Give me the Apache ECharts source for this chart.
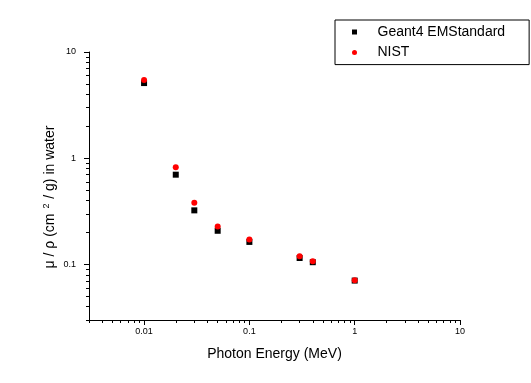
<!DOCTYPE html>
<html>
<head>
<meta charset="utf-8">
<script src="https://cdn.jsdelivr.net/npm/echarts@6/dist/echarts.min.js"></script>
<style>
html,body{margin:0;padding:0;background:#fff;}
#chart{width:531px;height:383px;}
</style>
</head>
<body>
<div id="chart"></div>
<script>
// Data
const energies = [0.01, 0.02, 0.03, 0.05, 0.1, 0.3, 0.4, 1];
const geant4 = [5.10, 0.70, 0.323, 0.2075, 0.163, 0.115, 0.105, 0.0705];
const nist = [5.44, 0.822, 0.381, 0.228, 0.172, 0.1197, 0.1074, 0.0711];

// Tick values
const xMajor = [0.01, 0.1, 1, 10];
const xMinor = [0.003, 0.004, 0.005, 0.006, 0.007, 0.008, 0.009,
  0.02, 0.03, 0.04, 0.05, 0.06, 0.07, 0.08, 0.09,
  0.2, 0.3, 0.4, 0.5, 0.6, 0.7, 0.8, 0.9,
  2, 3, 4, 5, 6, 7, 8, 9];
const yMajor = [0.1, 1, 10];
const yMinor = [0.03, 0.04, 0.05, 0.06, 0.07, 0.08, 0.09,
  0.2, 0.3, 0.4, 0.5, 0.6, 0.7, 0.8, 0.9,
  2, 3, 4, 5, 6, 7, 8, 9];
const seriesNames = ['Geant4 EMStandard', 'NIST'];

const FONT = 'Liberation Sans, Arial, sans-serif';
const lineStyle = {color: '#000', width: 1};

function pairs(xs, ys) { return xs.map((x, i) => [x, ys[i]]); }
function fmt(v) { return String(+v.toPrecision(6)); }

const chart = echarts.init(document.getElementById('chart'), null, {renderer: 'canvas'});
chart.setOption({
  backgroundColor: '#fff',
  animation: false,
  textStyle: {fontFamily: FONT},
  grid: {left: 89, right: 71, top: 52, bottom: 63, containLabel: false, outerBoundsMode: 'none'},
  legend: {
    data: seriesNames,
    orient: 'vertical',
    left: 335,
    top: 20,
    itemWidth: 5,
    itemHeight: 5,
    itemGap: 6.6,
    padding: [5, 24, 5, 17],
    borderColor: '#000',
    borderWidth: 1,
    backgroundColor: '#fff',
    textStyle: {fontFamily: FONT, fontSize: 14, color: '#000', lineHeight: 14, padding: [0, 0, 0, 15.5]}
  },
  xAxis: [
    {
      type: 'log', min: 0.003, max: 10, position: 'bottom',
      axisLine: {lineStyle},
      axisTick: {customValues: xMajor, length: 5, lineStyle},
      axisLabel: {customValues: xMajor, formatter: fmt, fontSize: 9, color: '#000', margin: 7, fontFamily: FONT},
      splitLine: {show: false},
      minorTick: {show: false},
      name: 'Photon Energy (MeV)',
      nameLocation: 'middle',
      nameGap: 27,
      nameMoveOverlap: false,
      nameTextStyle: {fontFamily: FONT, fontSize: 14, color: '#000'}
    },
    {
      type: 'log', min: 0.003, max: 10, position: 'bottom',
      axisLine: {show: false},
      axisTick: {customValues: xMinor, length: 3, lineStyle},
      axisLabel: {show: false},
      splitLine: {show: false}
    }
  ],
  yAxis: [
    {
      type: 'log', min: 0.03, max: 10, position: 'left',
      axisLine: {lineStyle},
      axisTick: {customValues: yMajor, length: 5, lineStyle},
      axisLabel: {customValues: yMajor, formatter: fmt, fontSize: 9, color: '#000', margin: 13, fontFamily: FONT},
      splitLine: {show: false},
      name: 'μ / ρ (cm {s|2} / g) in water',
      nameLocation: 'middle',
      nameGap: 30,
      nameMoveOverlap: false,
      nameTextStyle: {
        fontFamily: FONT, fontSize: 14, color: '#000', padding: [0, 22, 0, 0],
        rich: {s: {fontFamily: FONT, fontSize: 9, color: '#000', padding: [0, 1, 8, 1]}}
      }
    },
    {
      type: 'log', min: 0.03, max: 10, position: 'left',
      axisLine: {show: false},
      axisTick: {customValues: yMinor, length: 3, lineStyle},
      axisLabel: {show: false},
      splitLine: {show: false}
    }
  ],
  series: [
    {
      name: seriesNames[0], type: 'scatter', xAxisIndex: 0, yAxisIndex: 0,
      symbol: 'rect', symbolSize: 6,
      itemStyle: {color: '#000', opacity: 1},
      data: pairs(energies, geant4)
    },
    {
      name: seriesNames[1], type: 'scatter', xAxisIndex: 0, yAxisIndex: 0,
      symbol: 'circle', symbolSize: 6,
      itemStyle: {color: '#ff0000', opacity: 1},
      data: pairs(energies, nist)
    }
  ]
});
</script>
</body>
</html>
